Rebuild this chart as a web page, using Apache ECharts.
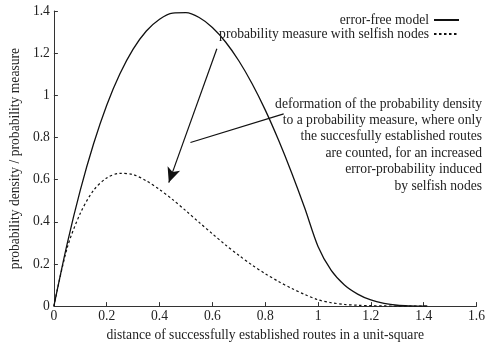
<!DOCTYPE html>
<html>
<head>
<meta charset="utf-8">
<script src="https://cdn.jsdelivr.net/npm/echarts@6/dist/echarts.min.js"></script>
<style>
  html, body { margin: 0; padding: 0; background: #fff; }
  #chart { width: 488px; height: 347px; }
</style>
</head>
<body>
<div id="chart"></div>
<script>
// Distances (x) and the two curves
const distances = [0, 0.05, 0.1, 0.15, 0.2, 0.25, 0.3, 0.35, 0.4, 0.45, 0.5, 0.55, 0.6, 0.65, 0.7,
    0.75, 0.8, 0.85, 0.9, 0.95, 1.0, 1.05, 1.1, 1.15, 1.2, 1.25, 1.3, 1.35, 1.4, 1.414];
const errorFree = [0, 0.294, 0.550, 0.769, 0.953, 1.102, 1.219, 1.305, 1.361, 1.390, 1.392, 1.369, 1.322, 1.253, 1.164,
    1.056, 0.931, 0.789, 0.633, 0.464, 0.283, 0.169, 0.100, 0.057, 0.029, 0.013, 0.004, 0.001, 0, 0];
const selfish = [0, 0.275, 0.44, 0.549, 0.608, 0.630, 0.624, 0.594, 0.553, 0.505, 0.452, 0.397, 0.343, 0.290, 0.241,
    0.195, 0.154, 0.117, 0.084, 0.055, 0.030, 0.016, 0.008, 0.004, 0.002, 0.001, 0, 0, 0, 0];

const seriesNames = ['error-free model', 'probability measure with selfish nodes'];

// Annotation arrows (data coordinates)
const arrowFrom = [0.617, 1.221];
const arrowTo = [0.435, 0.586];
const pointerFrom = [0.517, 0.776];
const pointerTo = [0.870, 0.912];

const noteLines = [
    'deformation of the probability density',
    'to a probability measure, where only',
    'the succesfully established routes',
    'are counted, for an increased',
    'error-probability induced',
    'by selfish nodes'
];

const font = 'Liberation Serif';
const fontSize = 13.6;
const ink = '#222';

const chart = echarts.init(document.getElementById('chart'));

const pairs = (ys) => distances.map((x, i) => [x, ys[i]]);

// one text element per line so every line is right-aligned
const noteGraphics = noteLines.map((line, i) => ({
    type: 'text',
    right: 6,
    top: 97 + i * 16.4,
    style: { text: line, font: fontSize + 'px ' + font, fill: ink }
}));

const option = {
    animation: false,
    textStyle: { fontFamily: font },
    grid: { left: 47, right: 11, top: 11, bottom: 34, containLabel: false },
    legend: {
        orient: 'vertical',
        right: 23,
        top: 8,
        align: 'right',
        itemWidth: 25,
        itemHeight: 15,
        itemGap: 0,
        itemStyle: { opacity: 0 },
        textStyle: { fontFamily: font, fontSize: fontSize, color: ink },
        data: seriesNames
    },
    xAxis: {
        type: 'value',
        min: 0,
        max: 1.6,
        interval: 0.2,
        name: 'distance of successfully established routes in a unit-square',
        nameLocation: 'middle',
        nameGap: 15,
        nameTextStyle: { fontFamily: font, fontSize: fontSize, color: ink },
        axisLine: { lineStyle: { color: '#333', width: 1 } },
        axisTick: { inside: true, length: 4, lineStyle: { color: '#333' } },
        axisLabel: { fontFamily: font, fontSize: fontSize, color: ink, margin: 3 },
        splitLine: { show: false }
    },
    yAxis: {
        type: 'value',
        min: 0,
        max: 1.4,
        interval: 0.2,
        name: 'probability density / probability measure',
        nameLocation: 'middle',
        nameGap: 30,
        nameTextStyle: { fontFamily: font, fontSize: fontSize, color: ink },
        axisLine: { show: true, lineStyle: { color: '#333', width: 1 } },
        axisTick: { show: true, inside: true, length: 4, lineStyle: { color: '#333' } },
        axisLabel: { fontFamily: font, fontSize: fontSize, color: ink, margin: 4 },
        splitLine: { show: false }
    },
    graphic: noteGraphics,
    series: [
        {
            name: seriesNames[0],
            type: 'line',
            symbol: 'none',
            smooth: 0.3,
            data: pairs(errorFree),
            lineStyle: { color: '#111', width: 1.3 },
            itemStyle: { color: '#111' },
            markLine: {
                silent: true,
                animation: false,
                label: { show: false },
                lineStyle: { color: '#111', width: 1.2, type: 'solid' },
                symbolSize: [10, 15],
                data: [
                    [{ coord: arrowFrom, symbol: 'none' }, { coord: arrowTo, symbol: 'arrow' }],
                    [{ coord: pointerFrom, symbol: 'none' }, { coord: pointerTo, symbol: 'none' }]
                ]
            }
        },
        {
            name: seriesNames[1],
            type: 'line',
            symbol: 'none',
            smooth: 0.3,
            data: pairs(selfish),
            lineStyle: { color: '#111', width: 1.2, type: [2.5, 2.5] },
            itemStyle: { color: '#111' }
        }
    ]
};

chart.setOption(option);
</script>
</body>
</html>
